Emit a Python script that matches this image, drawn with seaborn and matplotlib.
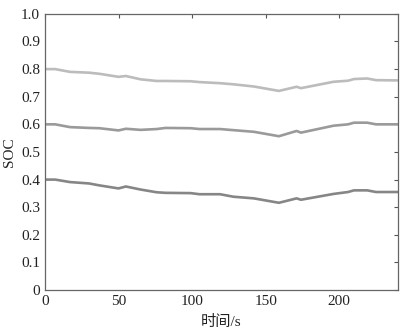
import numpy as np
import pandas as pd
import matplotlib
matplotlib.use("Agg")
import matplotlib.pyplot as plt
import seaborn as sns

t = [0, 7, 17, 30, 37, 50, 55, 65, 76, 82, 99, 105, 119, 128, 142, 159, 171, 174, 196, 206, 210, 219, 225, 240]
soc_high = [0.80, 0.80, 0.79, 0.787, 0.783, 0.772, 0.775, 0.763, 0.757, 0.757, 0.756, 0.753, 0.749, 0.745,
            0.737, 0.721, 0.736, 0.731, 0.754, 0.758, 0.764, 0.766, 0.760, 0.759]
soc_mid = [0.60, 0.60, 0.59, 0.587, 0.586, 0.578, 0.584, 0.580, 0.583, 0.587, 0.586, 0.583, 0.583, 0.579,
           0.573, 0.557, 0.576, 0.570, 0.595, 0.600, 0.606, 0.606, 0.600, 0.600]
soc_low = [0.40, 0.40, 0.391, 0.386, 0.379, 0.368, 0.375, 0.364, 0.354, 0.352, 0.351, 0.347, 0.347, 0.338,
           0.332, 0.316, 0.332, 0.327, 0.348, 0.355, 0.361, 0.361, 0.355, 0.355]
series_names = ["high", "mid", "low"]
colors = ["#bcbcbc", "#9a9a9a", "#868686"]

sns.set_style("white")
plt.rcParams['font.family'] = ['Liberation Serif', 'Noto Sans CJK SC']
plt.rcParams['mathtext.fontset'] = 'stix'

df = pd.DataFrame({
    "t": t * 3,
    "soc": soc_high + soc_mid + soc_low,
    "series": sum([[n] * len(t) for n in series_names], []),
})

fig = plt.figure(figsize=(4.16, 3.30), dpi=100)
ax = fig.add_axes([0.108, 0.121, 0.849, 0.837])
sns.lineplot(data=df, x="t", y="soc", hue="series", palette=dict(zip(series_names, colors)),
             linewidth=1.9, legend=False, ax=ax)

ax.set_xlim(0, 240)
ax.set_ylim(0, 1.0)
ax.set_xticks([0, 50, 100, 150, 200])
ax.set_yticks(np.round(np.arange(0, 1.01, 0.1), 1))
ax.set_yticklabels(["0"] + [f"{v:.1f}" for v in np.arange(0.1, 1.01, 0.1)])
ax.tick_params(direction="in", length=3, color="#555555", labelsize=11, labelcolor="#222222",
               top=True, right=True, width=0.8)
for s in ax.spines.values():
    s.set_color("#666666")
    s.set_linewidth(0.9)
ax.set_xlabel("时间/s", fontsize=11, color="#222222", labelpad=5)
ax.set_ylabel("SOC", fontsize=11, color="#222222", labelpad=4)

fig.savefig("out.png", dpi=100)
